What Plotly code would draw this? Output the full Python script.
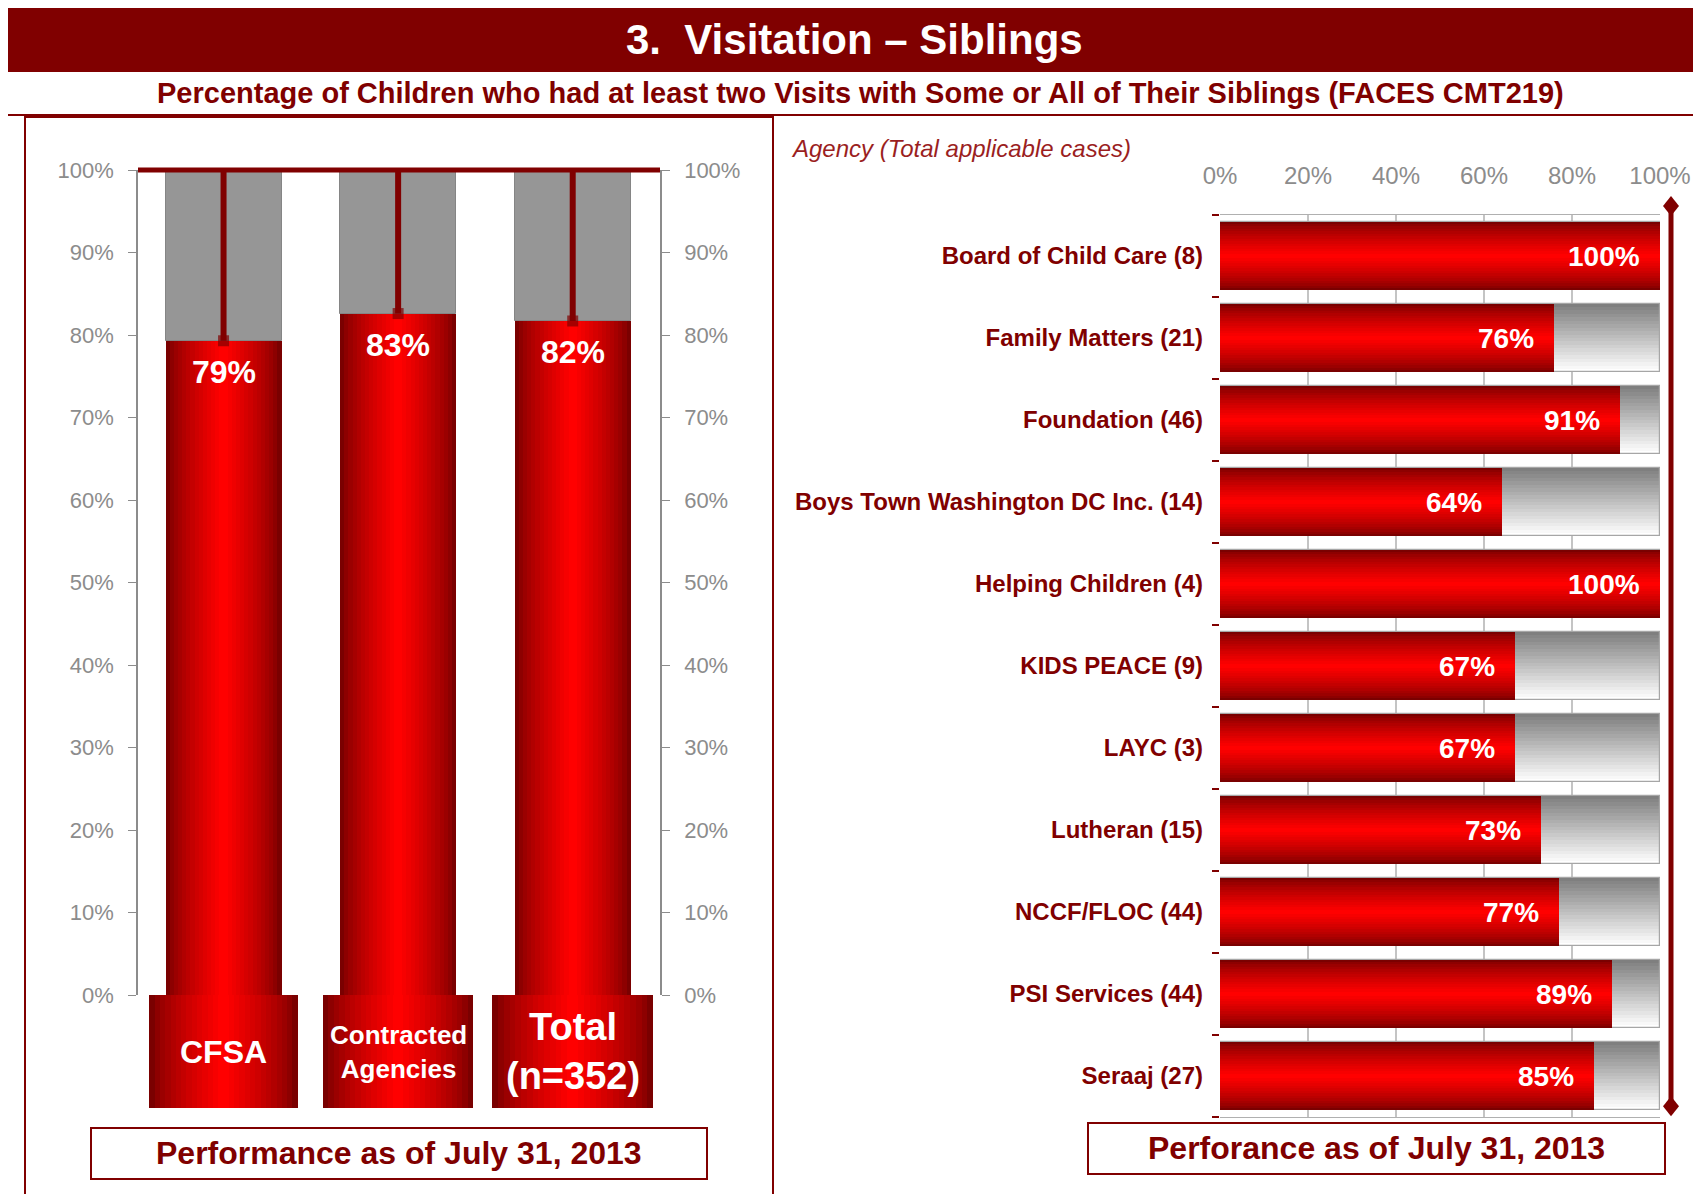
import plotly.graph_objects as go

# ---- data -------------------------------------------------------------
title_text = "3.  Visitation – Siblings"
subtitle_text = ("Percentage of Children who had at least two Visits with Some or All "
                 "of Their Siblings (FACES CMT219)")

left_groups = ["CFSA", "Contracted<br>Agencies", "Total<br>(n=352)"]
left_values = [0.793, 0.826, 0.817]
left_target = 1.0
left_footer = "Performance as of July 31, 2013"

agencies = [
    "Board of Child Care (8)",
    "Family Matters (21)",
    "Foundation (46)",
    "Boys Town Washington DC Inc. (14)",
    "Helping Children (4)",
    "KIDS PEACE (9)",
    "LAYC (3)",
    "Lutheran (15)",
    "NCCF/FLOC (44)",
    "PSI Services (44)",
    "Seraaj (27)",
]
agency_values = [1.00, 0.76, 0.91, 0.64, 1.00, 0.67, 0.67, 0.73, 0.77, 0.89, 0.85]
agency_axis_title = "Agency (Total applicable cases)"
right_footer = "Perforance as of July 31, 2013"

pct_ticks = [i / 10 for i in range(11)]
agency_ticks = [i / 5 for i in range(6)]

# ---- style ------------------------------------------------------------
W, H = 1701, 1194
OFF = 8  # page body margin pushes the plot 8px right/down
DARK = "#800000"
GRAY_TXT = "#8c8c8c"
FONT = "Liberation Sans, Arial, sans-serif"


def px(x):
    return (x - OFF) / W


def py(y):
    return 1 - (y - OFF) / H


def mix(c1, c2, t):
    a = [int(c1[i:i + 2], 16) for i in (1, 3, 5)]
    b = [int(c2[i:i + 2], 16) for i in (1, 3, 5)]
    return "rgb(%d,%d,%d)" % tuple(round(a[k] + (b[k] - a[k]) * t) for k in range(3))


def nested_bars(pos, vals, widths, axes, horizontal=False, base=None, n=14,
                edge="#7a0000", centre="#ff0000"):
    """stack of narrowing bars -> fake symmetric gradient across the bar"""
    out = []
    for i in range(n):
        t = (i / (n - 1)) ** 0.75
        ws = [w * (1 - i / n) for w in widths]
        kw = dict(width=ws, marker_color=mix(edge, centre, t), marker_line_width=0,
                  hoverinfo="skip", showlegend=False, xaxis=axes[0], yaxis=axes[1])
        if horizontal:
            out.append(go.Bar(y=pos, x=vals, orientation="h", **kw))
        else:
            out.append(go.Bar(x=pos, y=vals, base=base, **kw))
    return out


fig = go.Figure()

# ---- left chart -------------------------------------------------------
xs = list(range(len(left_groups)))
fig.add_trace(go.Bar(
    x=xs, y=[left_target - v for v in left_values], base=left_values, width=0.665,
    marker_color="#969696", marker_line_color="#858585", marker_line_width=1,
    hoverinfo="skip", showlegend=False, xaxis="x", yaxis="y"))
for tr in nested_bars(xs, left_values, [0.665] * 3, ("x", "y")):
    fig.add_trace(tr)

for i, v in enumerate(left_values):
    fig.add_trace(go.Scatter(
        x=[i, i], y=[v, left_target], mode="lines+markers",
        line=dict(color=DARK, width=6),
        marker=dict(symbol="square", size=[11, 0], color=DARK, line_width=0),
        hoverinfo="skip", showlegend=False, xaxis="x", yaxis="y"))
    fig.add_annotation(x=i, y=v, xref="x", yref="y", yshift=-31, showarrow=False,
                       text=f"{round(v * 100)}%",
                       font=dict(family=FONT, size=32, color="white", weight="bold"))

# category boxes under the bars
box_widths = [0.85, 0.86, 0.92]
for tr in nested_bars(xs, [1] * 3, box_widths, ("x4", "y4")):
    fig.add_trace(tr)
for i, (g, fs) in enumerate(zip(left_groups, [32, 26, 38])):
    fig.add_annotation(x=i, y=0.5, xref="x4", yref="y4", showarrow=False, text=g,
                       font=dict(family=FONT, size=fs, color="white", weight="bold"))

# ---- right chart ------------------------------------------------------
ys = list(range(len(agencies)))
bw = 0.84
n_strip = 20
for k in range(n_strip):
    fig.add_trace(go.Bar(
        y=ys, x=[1.0] * len(ys), orientation="h", width=bw / n_strip * (2 if k < n_strip - 1 else 1),
        offset=-bw / 2 + k * bw / n_strip,
        marker_color=mix("#7f7f7f", "#ffffff", k / (n_strip - 1)), marker_line_width=0,
        hoverinfo="skip", showlegend=False, xaxis="x2", yaxis="y2"))
fig.add_trace(go.Bar(
    y=ys, x=[1.0] * len(ys), orientation="h", width=bw,
    marker_color="rgba(0,0,0,0)", marker_line_color="#a6a6a6", marker_line_width=1.2,
    hoverinfo="skip", showlegend=False, xaxis="x2", yaxis="y2"))
for tr in nested_bars(ys, agency_values, [bw] * len(ys), ("x2", "y2"), horizontal=True):
    fig.add_trace(tr)
for i, v in enumerate(agency_values):
    fig.add_annotation(x=v, y=i, xref="x2", yref="y2", xanchor="right", xshift=-18,
                       showarrow=False, text=f"{round(v * 100)}%",
                       font=dict(family=FONT, size=28, color="white", weight="bold"))

# ---- frames, titles ---------------------------------------------------
diamond = "M 0 10 L 8 0 L 0 -10 L -8 0 Z"
target_x, target_top, target_bot = 1.025, 1.01, 0.012
shapes = [
    dict(type="rect", xref="paper", yref="paper", x0=px(5), x1=1.0, y0=py(71), y1=py(5),
         fillcolor=DARK, line_width=0, layer="below"),
    dict(type="rect", xref="paper", yref="paper", x0=px(7), x1=1.01, y0=py(115), y1=py(71),
         line=dict(color=DARK, width=2), layer="below"),
    dict(type="rect", xref="paper", yref="paper", x0=px(25), x1=px(773), y0=-0.02, y1=py(117),
         line=dict(color=DARK, width=2), layer="below"),
    # 100% line across the top of the left chart (domain refs so it is not clipped)
    dict(type="line", xref="x domain", yref="y domain", x0=0, x1=1, y0=1, y1=1,
         line=dict(color=DARK, width=5)),
    dict(type="rect", xref="paper", yref="paper", x0=px(91), x1=px(707), y0=py(1179), y1=py(1128),
         line=dict(color=DARK, width=2)),
    dict(type="rect", xref="paper", yref="paper", x0=px(1088), x1=px(1665), y0=py(1174), y1=py(1123),
         line=dict(color=DARK, width=2)),
    # target line at the right edge of the agency chart
    dict(type="line", xref="x2 domain", yref="y2 domain", x0=target_x, x1=target_x,
         y0=target_bot, y1=target_top, line=dict(color=DARK, width=5)),
]
for yy in (target_top, target_bot):
    shapes.append(dict(type="path", xref="x2 domain", yref="y2 domain", xsizemode="pixel",
                       ysizemode="pixel", xanchor=target_x, yanchor=yy, path=diamond,
                       fillcolor=DARK, line_width=0))

annotations = [
    dict(x=px(854), y=py(39), text=title_text,
         font=dict(family=FONT, size=42, color="white", weight="bold")),
    dict(x=px(860), y=py(93), text=subtitle_text,
         font=dict(family=FONT, size=29, color=DARK, weight="bold")),
    dict(x=px(789), y=py(148), xanchor="left", text=agency_axis_title,
         font=dict(family=FONT, size=24, color="#9b1f1f", style="italic")),
    dict(x=px(399), y=py(1153), text=left_footer,
         font=dict(family=FONT, size=32, color=DARK, weight="bold")),
    dict(x=px(1376), y=py(1148), text=right_footer,
         font=dict(family=FONT, size=32, color=DARK, weight="bold")),
]
for a in annotations:
    a.setdefault("xanchor", "center")
    a.update(xref="paper", yref="paper", yanchor="middle", showarrow=False)
    fig.add_annotation(**a)

left_xdom = [px(138), px(660)]
left_ydom = [py(995), py(170)]
pct_axis = dict(range=[0, 1], tickvals=pct_ticks, tickformat=".0%", ticks="outside", ticklen=8,
                tickcolor=GRAY_TXT, showline=True, linecolor=GRAY_TXT, linewidth=1.5,
                showgrid=False, zeroline=False, automargin=False,
                tickfont=dict(family=FONT, size=22, color=GRAY_TXT))

fig.update_layout(
    width=W, height=H, margin=dict(l=0, r=0, t=0, b=0, autoexpand=False),
    paper_bgcolor="white", plot_bgcolor="white", barmode="overlay", bargap=0,
    showlegend=False, shapes=shapes,
    xaxis=dict(domain=left_xdom, range=[-0.49, 2.50], visible=False, anchor="y"),
    yaxis=dict(domain=left_ydom, anchor="x", ticklabelstandoff=10, **pct_axis),
    yaxis3=dict(overlaying="y", side="right", anchor="x", ticklabelstandoff=10, **pct_axis),
    xaxis4=dict(domain=left_xdom, range=[-0.49, 2.50], visible=False, anchor="y4"),
    yaxis4=dict(domain=[py(1108), py(995)], range=[0, 1], visible=False, anchor="x4"),
    xaxis2=dict(domain=[px(1220), px(1660)], range=[0, 1], side="top", anchor="y2",
                tickvals=agency_ticks, tickformat=".0%", ticks="", showgrid=True,
                gridcolor="#c4c4c4", gridwidth=1.5, zeroline=False, showline=True, mirror=True,
                linecolor="#b0b0b0", ticklabelstandoff=20, automargin=False,
                tickfont=dict(family=FONT, size=24, color=GRAY_TXT)),
    yaxis2=dict(domain=[py(1117), py(215)], range=[10.5, -0.5], anchor="x2",
                tickvals=ys, ticktext=agencies, ticks="", showgrid=False, zeroline=False,
                ticklabelstandoff=16, automargin=False,
                tickfont=dict(family=FONT, size=24, color=DARK, weight="bold"),
                minor=dict(tickmode="array", tickvals=[i - 0.5 for i in range(len(ys) + 1)],
                           ticks="outside", ticklen=7, tickcolor=DARK, tickwidth=2)),
)
# dummy trace so the right-hand percent axis is drawn
fig.add_trace(go.Scatter(x=[None], y=[None], xaxis="x", yaxis="y3", showlegend=False))

fig.write_html("out.html")
